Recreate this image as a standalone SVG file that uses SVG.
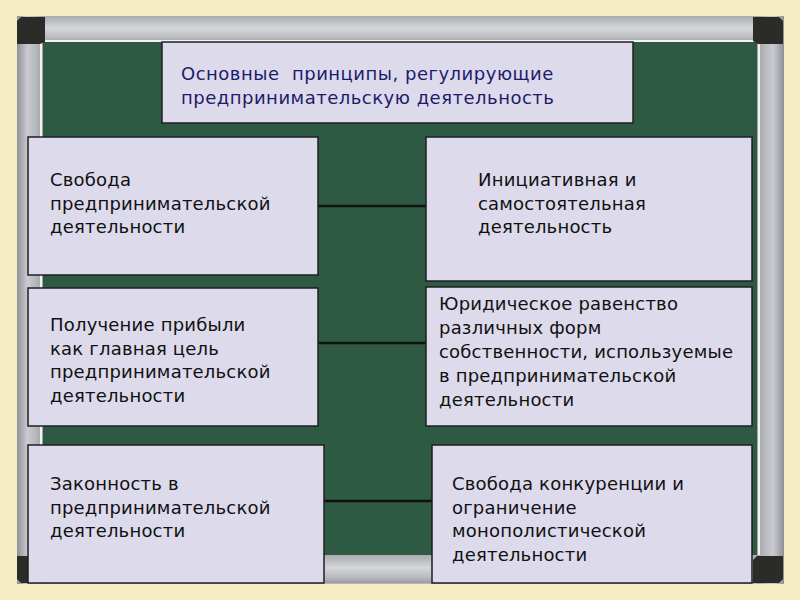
<svg xmlns="http://www.w3.org/2000/svg" width="800" height="600" viewBox="0 0 800 600">
<defs>
<linearGradient id="hbar" x1="0" y1="0" x2="0" y2="1">
<stop offset="0" stop-color="#a9abb0"/><stop offset="0.45" stop-color="#d4d6da"/><stop offset="0.8" stop-color="#b9bbc0"/><stop offset="1" stop-color="#9a9ca2"/>
</linearGradient>
<linearGradient id="vbar" x1="0" y1="0" x2="1" y2="0">
<stop offset="0" stop-color="#8e9096"/><stop offset="0.4" stop-color="#c9cbd0"/><stop offset="0.75" stop-color="#b4b6bb"/><stop offset="1" stop-color="#9fa1a6"/>
</linearGradient>
<linearGradient id="vbarR" x1="1" y1="0" x2="0" y2="0">
<stop offset="0" stop-color="#8e9096"/><stop offset="0.4" stop-color="#c9cbd0"/><stop offset="0.75" stop-color="#b4b6bb"/><stop offset="1" stop-color="#9fa1a6"/>
</linearGradient>
</defs>
<style>
.box{fill:#dcdaeb;stroke:#1f1f22;stroke-width:1.5}
.t{font-family:"DejaVu Sans","Noto Sans",sans-serif;font-size:18px;fill:#111;letter-spacing:0.2px}
.title{font-family:"DejaVu Sans","Noto Sans",sans-serif;font-size:18px;fill:#1c1c6a;letter-spacing:0.5px;white-space:pre}
.conn{stroke:#111;stroke-width:2.5;fill:none}
.corner{fill:#2b2b27}
</style>
<rect x="0" y="0" width="800" height="600" fill="#f4ecc2"/>
<g id="board">
<rect x="17" y="16" width="767" height="568" rx="4" fill="#b5b7bc"/>
<rect x="17" y="16" width="767" height="27" fill="url(#hbar)"/>
<rect x="17" y="555" width="767" height="28" fill="url(#hbar)"/>
<rect x="17" y="16" width="26" height="568" fill="url(#vbar)"/>
<rect x="757" y="16" width="27" height="568" fill="url(#vbarR)"/>
<rect x="43" y="42" width="714" height="513" fill="#2e5a44"/>
<line x1="42" y1="41" x2="758" y2="41" stroke="#f2f2f2" stroke-width="2"/>
<line x1="41" y1="41" x2="41" y2="555" stroke="#f2f2f2" stroke-width="2"/>
<line x1="759" y1="41" x2="759" y2="555" stroke="#f2f2f2" stroke-width="2"/>
<path class="corner" d="M21,17 H45 V42 L40,44 H17 V21 Z"/>
<path class="corner" d="M753,17 H779 L783,21 V44 H758 L753,41 Z"/>
<path class="corner" d="M17,556 H42 L45,559 V583 H21 L17,579 Z"/>
<path class="corner" d="M757,556 H783 V579 L779,583 H753 V560 Z"/>
</g>
<g id="connectors">
<line class="conn" x1="318" y1="206" x2="426" y2="206"/>
<line class="conn" x1="318" y1="343" x2="426" y2="343"/>
<line class="conn" x1="324" y1="501" x2="432" y2="501"/>
</g>
<g id="title">
<rect class="box" x="162" y="42" width="471" height="81"/>
<text class="title" x="181" y="80" xml:space="preserve">Основные  принципы, регулирующие</text>
<text class="title" x="181" y="104">предпринимательскую деятельность</text>
</g>
<g id="n1">
<rect class="box" x="28" y="137" width="290" height="138"/>
<text class="t" x="50" y="186">Свобода</text>
<text class="t" x="50" y="210">предпринимательской</text>
<text class="t" x="50" y="233">деятельности</text>
</g>
<g id="n2">
<rect class="box" x="426" y="137" width="326" height="144"/>
<text class="t" x="478" y="186">Инициативная и</text>
<text class="t" x="478" y="210">самостоятельная</text>
<text class="t" x="478" y="233">деятельность</text>
</g>
<g id="n3">
<rect class="box" x="28" y="288" width="290" height="138"/>
<text class="t" x="50" y="331">Получение прибыли</text>
<text class="t" x="50" y="355">как главная цель</text>
<text class="t" x="50" y="378">предпринимательской</text>
<text class="t" x="50" y="402">деятельности</text>
</g>
<g id="n4">
<rect class="box" x="426" y="287" width="326" height="139"/>
<text class="t" x="439" y="310">Юридическое равенство</text>
<text class="t" x="439" y="334">различных форм</text>
<text class="t" x="439" y="358">собственности, используемые</text>
<text class="t" x="439" y="382">в предпринимательской</text>
<text class="t" x="439" y="406">деятельности</text>
</g>
<g id="n5">
<rect class="box" x="28" y="445" width="296" height="138"/>
<text class="t" x="50" y="490">Законность в</text>
<text class="t" x="50" y="514">предпринимательской</text>
<text class="t" x="50" y="537">деятельности</text>
</g>
<g id="n6">
<rect class="box" x="432" y="445" width="320" height="138"/>
<text class="t" x="452" y="490">Свобода конкуренции и</text>
<text class="t" x="452" y="514">ограничение</text>
<text class="t" x="452" y="537">монополистической</text>
<text class="t" x="452" y="561">деятельности</text>
</g>
</svg>
